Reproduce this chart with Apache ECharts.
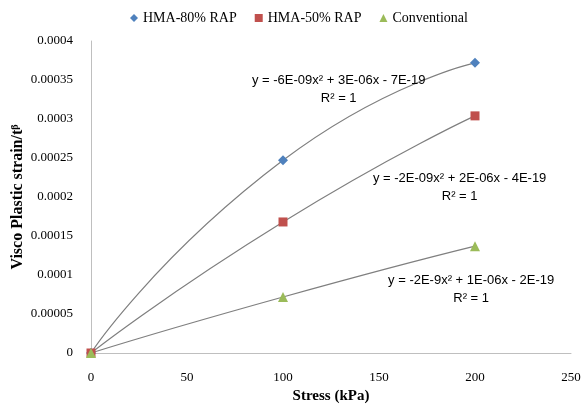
<!DOCTYPE html>
<html>
<head>
<meta charset="utf-8">
<script src="https://cdn.jsdelivr.net/npm/echarts@6/dist/echarts.min.js"></script>
<style>
  html, body { margin: 0; padding: 0; background: #fff; }
  #chart { width: 584px; height: 410px; }
</style>
</head>
<body>
<div id="chart"></div>
<script>
// stress values (kPa)
var stress = [0, 100, 200];
// visco plastic strain / t^beta
var hma80 = [0, 0.000247, 0.000372];
var hma50 = [0, 0.000168, 0.000304];
var conventional = [0, 0.0000718, 0.000137];

var seriesNames = ['HMA-80% RAP', 'HMA-50% RAP', 'Conventional'];
var seriesColors = ['#4F81BD', '#C0504D', '#9BBB59'];
var seriesSymbols = ['diamond', 'rect', 'triangle'];
var trendLabels = [
  ['y = -6E-09x\u00b2 + 3E-06x - 7E-19', 'R\u00b2 = 1'],
  ['y = -2E-09x\u00b2 + 2E-06x - 4E-19', 'R\u00b2 = 1'],
  ['y = -2E-9x\u00b2 + 1E-06x - 2E-19', 'R\u00b2 = 1']
];

function pairs(ys) {
  var out = [];
  for (var i = 0; i < stress.length; i++) {
    out.push([stress[i], ys[i]]);
  }
  return out;
}

var allData = [hma80, hma50, conventional];
var serieData = [];
// trend lines first so the markers sit on top
for (var v = 0; v < allData.length; v++) {
  serieData.push({
    name: 'trend' + v,
    type: 'line',
    data: pairs(allData[v]),
    smooth: 0.6,
    showSymbol: false,
    lineStyle: { color: '#7F7F7F', width: 1.2 },
    itemStyle: { color: '#7F7F7F' },
    silent: true,
    z: 2
  });
}
for (var v = 0; v < allData.length; v++) {
  serieData.push({
    name: seriesNames[v],
    type: 'scatter',
    data: pairs(allData[v]),
    symbol: seriesSymbols[v],
    symbolSize: seriesSymbols[v] == 'rect' ? 9 : 10,
    itemStyle: { color: seriesColors[v], opacity: 1 },
    z: 3
  });
}

var myChart = echarts.init(document.getElementById('chart'));
var option = {
  animation: false,
  backgroundColor: '#fff',
  grid: { left: 91, right: 13, top: 41, bottom: 57, containLabel: false, outerBoundsMode: 'none' },
  legend: {
    left: 125, top: 6,
    itemWidth: 8, itemHeight: 8, itemGap: 18,
    data: [
      { name: seriesNames[0], icon: 'diamond' },
      { name: seriesNames[1], icon: 'rect' },
      { name: seriesNames[2], icon: 'triangle' }
    ],
    textStyle: { color: '#000', fontSize: 14, fontFamily: 'Liberation Serif' }
  },
  xAxis: {
    type: 'value', min: 0, max: 250, interval: 50,
    name: 'Stress (kPa)', nameLocation: 'middle', nameGap: 35,
    nameTextStyle: { color: '#000', fontSize: 15, fontWeight: 'bold', fontFamily: 'Liberation Serif' },
    axisLine: { show: true, lineStyle: { color: '#BFBFBF' } },
    axisTick: { show: false },
    splitLine: { show: false },
    axisLabel: { color: '#000', fontSize: 13, fontFamily: 'Liberation Serif', margin: 18 }
  },
  yAxis: {
    type: 'value', min: 0, max: 0.0004, interval: 0.00005,
    name: '{a|Visco Plastic strain/t}{b|\u03b2}', nameLocation: 'middle', nameGap: 65,
    nameMoveOverlap: false,
    nameTextStyle: {
      rich: {
        a: { color: '#000', fontSize: 16, fontWeight: 'bold', fontFamily: 'Liberation Serif' },
        b: { color: '#000', fontSize: 10, fontWeight: 'bold', fontFamily: 'Liberation Serif', verticalAlign: 'top', padding: [0, 0, 6, 0] }
      }
    },
    axisLine: { show: true, lineStyle: { color: '#BFBFBF' } },
    axisTick: { show: false },
    splitLine: { show: false },
    axisLabel: {
      color: '#000', fontSize: 13, fontFamily: 'Liberation Serif', margin: 18,
      formatter: function (val) { return parseFloat(val.toFixed(6)).toString(); }
    }
  },
  series: serieData
};
myChart.setOption(option);

// trend line equations, placed in data space
var labelPos = [[129, 0.000338], [192, 0.000212], [198, 0.0000815]];
var graphics = [];
for (var k = 0; k < trendLabels.length; k++) {
  var p = myChart.convertToPixel({ gridIndex: 0 }, labelPos[k]);
  graphics.push({
    type: 'text', x: p[0], y: p[1],
    style: {
      text: trendLabels[k].join('\n'),
      align: 'center', verticalAlign: 'middle',
      fill: '#000', font: '13px "Liberation Sans"', lineHeight: 18
    },
    z: 10
  });
}
myChart.setOption({ graphic: graphics });
</script>
</body>
</html>
